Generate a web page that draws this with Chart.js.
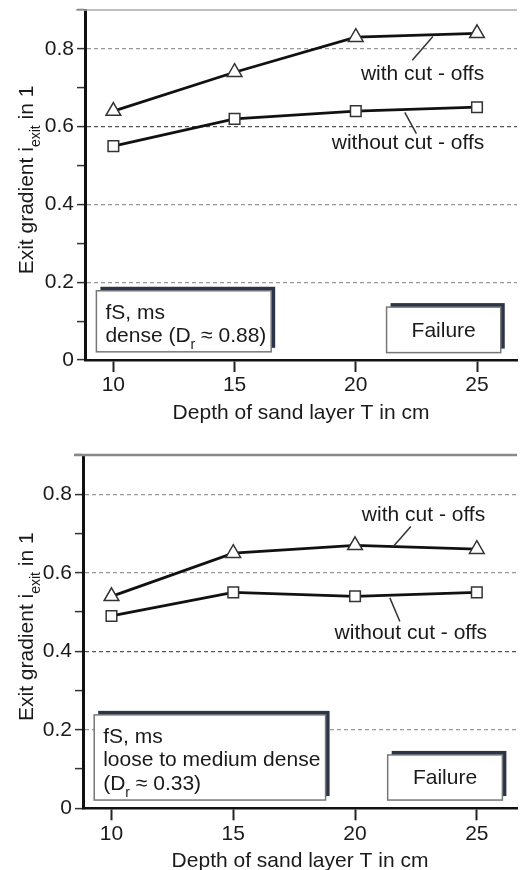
<!DOCTYPE html>
<html>
<head>
<meta charset="utf-8">
<script src="https://cdn.jsdelivr.net/npm/chart.js@4.4.0/dist/chart.umd.min.js"></script>
<style>
  body { margin: 0; background: #fff; width: 527px; height: 870px; overflow: hidden; }
  .wrap { position: absolute; left: 0; width: 527px; height: 430px; }
</style>
</head>
<body>
<div class="wrap" style="top:0"><canvas id="denseChart"></canvas></div>
<div class="wrap" style="top:440px"><canvas id="looseChart"></canvas></div>
<script>
// Depth of sand layer T in cm
const depthT = [10, 15, 20, 25];

// Exit gradient, dense sand (Dr ~ 0.88)
const denseWithCutoffs = [0.64, 0.74, 0.83, 0.84];
const denseWithoutCutoffs = [0.55, 0.62, 0.64, 0.65];

// Exit gradient, loose to medium dense sand (Dr ~ 0.33)
const looseWithCutoffs = [0.54, 0.65, 0.67, 0.66];
const looseWithoutCutoffs = [0.49, 0.55, 0.54, 0.55];

// y ticks (minor ticks have no label)
const yTickValues = [0, 0.1, 0.2, 0.3, 0.4, 0.5, 0.6, 0.7, 0.8, 0.9];
const yTickLabels = ['0', '', '0.2', '', '0.4', '', '0.6', '', '0.8', ''];

const FAMILY = "'Liberation Sans', Arial, sans-serif";
const TEXT = '#1a1a1a';
Chart.defaults.font.family = FAMILY;
Chart.defaults.font.size = 21;
Chart.defaults.color = TEXT;

// draw text made of normal and subscript pieces
function drawRich(ctx, segs, x, y, align) {
  const fontOf = s => (s[1] ? '14px ' : '21px ') + FAMILY;
  let total = 0;
  segs.forEach(s => { ctx.font = fontOf(s); total += ctx.measureText(s[0]).width; });
  let cx = align === 'center' ? x - total / 2 : x;
  ctx.textAlign = 'left';
  segs.forEach(s => {
    ctx.font = fontOf(s);
    ctx.fillText(s[0], cx, s[1] ? y + 7 : y);
    cx += ctx.measureText(s[0]).width;
  });
}

// no extra room for half tick labels, so the plot area sits where we want
function noScalePadding(s) {
  s.paddingTop = 0;
  s.paddingBottom = 0;
  s.paddingLeft = 0;
  s.paddingRight = 0;
}

const paperDecor = {
  id: 'paperDecor',
  afterDraw(chart, args, o) {
    const { ctx, chartArea: a, scales: { x, y } } = chart;
    const px = v => x.getPixelForValue(v);
    const py = v => y.getPixelForValue(v);
    ctx.save();

    // top frame line
    ctx.strokeStyle = o.topColor;
    ctx.lineWidth = o.topWidth;
    ctx.beginPath();
    ctx.moveTo(a.left - 9, a.top);
    ctx.lineTo(a.right, a.top);
    ctx.stroke();

    // series labels with leader lines
    o.notes.forEach(n => {
      ctx.strokeStyle = '#333';
      ctx.lineWidth = 1.5;
      ctx.beginPath();
      ctx.moveTo(px(n.from[0]), py(n.from[1]));
      ctx.lineTo(px(n.to[0]), py(n.to[1]));
      ctx.stroke();
      ctx.fillStyle = TEXT;
      ctx.font = '21px ' + FAMILY;
      ctx.textAlign = 'left';
      ctx.textBaseline = 'middle';
      ctx.fillText(n.text, px(n.at[0]), py(n.at[1]));
    });

    // boxes with dark offset shadow
    o.boxes.forEach(b => {
      const l = px(b.x0), r = px(b.x1), t = py(b.y1), bt = py(b.y0);
      ctx.fillStyle = '#2c3448';
      ctx.fillRect(l + 4, t - 4, r - l, bt - t);
      ctx.fillStyle = '#fff';
      ctx.fillRect(l, t, r - l, bt - t);
      ctx.strokeStyle = '#777';
      ctx.lineWidth = 1.5;
      ctx.strokeRect(l, t, r - l, bt - t);
      ctx.fillStyle = TEXT;
      if (b.center) {
        ctx.textBaseline = 'middle';
        drawRich(ctx, b.lines[0], (l + r) / 2, (t + bt) / 2 + 1, 'center');
      } else {
        ctx.textBaseline = 'alphabetic';
        b.lines.forEach((line, i) => drawRich(ctx, line, l + 9, t + 28 + i * 23.5, 'left'));
      }
    });

    // axis titles
    ctx.fillStyle = TEXT;
    ctx.textBaseline = 'alphabetic';
    ctx.font = '21px ' + FAMILY;
    ctx.textAlign = 'center';
    ctx.fillText('Depth of sand layer T in cm', (a.left + a.right) / 2, a.bottom + 58.5);

    ctx.translate(33, (a.top + a.bottom) / 2 - 5);
    ctx.rotate(-Math.PI / 2);
    drawRich(ctx, [['Exit gradient i'], ['exit', 1], [' in 1']], 0, 0, 'center');
    ctx.restore();
  }
};

function makeChart(id, withData, withoutData, o) {
  return new Chart(document.getElementById(id).getContext('2d'), {
    type: 'line',
    data: {
      datasets: [{
        label: 'with cut-offs',
        data: depthT.map((t, i) => ({ x: t, y: withData[i] })),
        borderColor: '#111',
        borderWidth: 2.8,
        tension: 0,
        pointStyle: 'triangle',
        pointRadius: 8.5,
        pointBackgroundColor: '#fff',
        pointBorderColor: '#333',
        pointBorderWidth: 1.5
      }, {
        label: 'without cut-offs',
        data: depthT.map((t, i) => ({ x: t, y: withoutData[i] })),
        borderColor: '#111',
        borderWidth: 2.8,
        tension: 0,
        pointStyle: 'rect',
        pointRadius: 7.5,
        pointBackgroundColor: '#fff',
        pointBorderColor: '#333',
        pointBorderWidth: 1.5
      }]
    },
    options: {
      responsive: true,
      maintainAspectRatio: false,
      animation: false,
      devicePixelRatio: 1,
      layout: { padding: { top: o.plotTop, right: 0, bottom: 0, left: 0 } },
      scales: {
        x: {
          type: 'linear',
          min: 8.83,
          max: 26.65,
          afterBuildTicks: s => { s.ticks = depthT.map(v => ({ value: v })); },
          afterFit: s => { s.height = 430 - o.plotBottom; noScalePadding(s); },
          ticks: { padding: 1, autoSkip: false, maxRotation: 0, callback: v => String(v) },
          grid: { drawOnChartArea: false, tickLength: 12, tickColor: '#222', tickWidth: 2 },
          border: { color: '#111', width: 2.5 }
        },
        y: {
          min: 0,
          max: 0.9,
          afterBuildTicks: s => { s.ticks = yTickValues.map(v => ({ value: v })); },
          afterFit: s => { s.width = o.axisLeft; noScalePadding(s); },
          ticks: { padding: 3, autoSkip: false, callback: (v, i) => yTickLabels[i] },
          grid: {
            tickLength: 8,
            tickColor: '#333',
            tickWidth: 1.5,
            lineWidth: 1.2,
            color: c => {
              if (c.index === o.darkIndex) return '#555';
              return (c.index > 0 && c.index % 2 === 0) ? '#999' : 'rgba(0,0,0,0)';
            }
          },
          border: { color: '#111', width: 3, dash: [4, 3] }
        }
      },
      plugins: {
        legend: { display: false },
        tooltip: { enabled: false },
        paperDecor: o
      }
    },
    plugins: [paperDecor]
  });
}

makeChart('denseChart', denseWithCutoffs, denseWithoutCutoffs, {
  axisLeft: 85, plotTop: 8, plotBottom: 360, darkIndex: 6,
  topColor: '#aaa', topWidth: 1.5,
  notes: [
    { text: 'with cut - offs', at: [20.21, 0.734], from: [23.18, 0.832], to: [22.33, 0.771] },
    { text: 'without cut - offs', at: [19.01, 0.558], from: [22.02, 0.637], to: [22.50, 0.582] }
  ],
  boxes: [
    { x0: 9.30, x1: 16.51, y0: 0.021, y1: 0.178,
      lines: [[['fS, ms']], [['dense (D'], ['r', 1], [' \u2248 0.88)']]] },
    { x0: 21.27, x1: 25.98, y0: 0.019, y1: 0.136, center: true, lines: [[['Failure']]] }
  ]
});

makeChart('looseChart', looseWithCutoffs, looseWithoutCutoffs, {
  axisLeft: 83, plotTop: 15, plotBottom: 368.3, darkIndex: 4,
  topColor: '#888', topWidth: 2.5,
  notes: [
    { text: 'with cut - offs', at: [20.28, 0.746], from: [21.57, 0.667], to: [22.29, 0.718] },
    { text: 'without cut - offs', at: [19.16, 0.446], from: [21.43, 0.536], to: [21.84, 0.476] }
  ],
  boxes: [
    { x0: 9.29, x1: 18.79, y0: 0.021, y1: 0.238,
      lines: [[['fS, ms']], [['loose to medium dense']], [['(D'], ['r', 1], [' \u2248 0.33)']]] },
    { x0: 21.34, x1: 26.05, y0: 0.021, y1: 0.136, center: true, lines: [[['Failure']]] }
  ]
});
</script>
</body>
</html>
